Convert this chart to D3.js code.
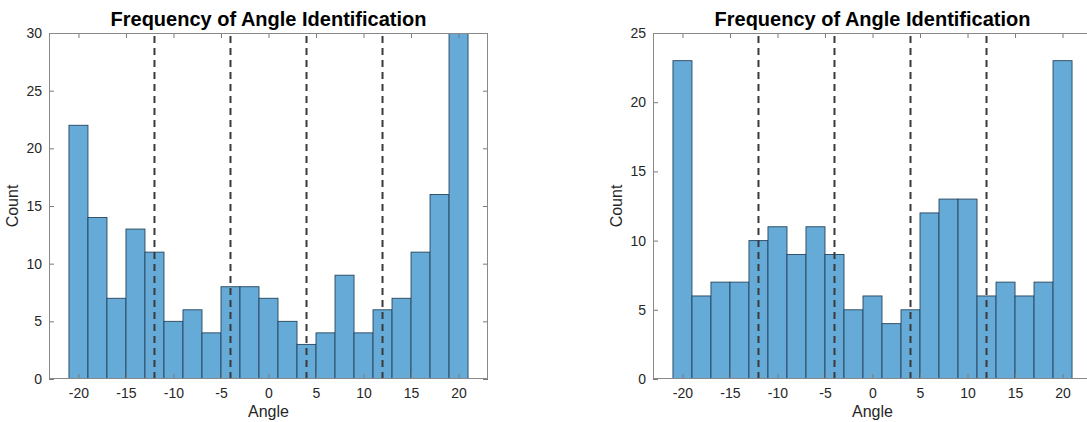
<!DOCTYPE html>
<html>
<head>
<meta charset="utf-8">
<script src="https://cdn.jsdelivr.net/npm/d3@7"></script>
<style>
  html, body { margin: 0; padding: 0; background: #fff; }
  svg { display: block; font-family: "Liberation Sans", Arial, Helvetica, sans-serif; }
</style>
</head>
<body>
<svg id="chart" width="1087" height="422"></svg>
<script>
// ---- data ----
const binCenters = [-20, -18, -16, -14, -12, -10, -8, -6, -4, -2, 0, 2, 4, 6, 8, 10, 12, 14, 16, 18, 20];
const binWidth = 2;
const leftCounts  = [22, 14, 7, 13, 11, 5, 6, 4, 8, 8, 7, 5, 3, 4, 9, 4, 6, 7, 11, 16, 30];
const rightCounts = [23, 6, 7, 7, 10, 11, 9, 11, 9, 5, 6, 4, 5, 12, 13, 13, 6, 7, 6, 7, 23];
const thresholds = [-12, -4, 4, 12];
const xTicks = [-20, -15, -10, -5, 0, 5, 10, 15, 20];
const yTicksLeft = [0, 5, 10, 15, 20, 25, 30];
const yTicksRight = [0, 5, 10, 15, 20, 25];
const titleText = "Frequency of Angle Identification";
const xLabel = "Angle";
const yLabel = "Count";

const svg = d3.select("#chart");
const barFill = "#66aad7";
const textColor = "#262626";

function drawPanel(x0, x1, counts, yMax, yTicks) {
  const top = 33, bottom = 379;
  const x = d3.scaleLinear().domain([-23.1, 23.1]).range([x0, x1]);
  const y = d3.scaleLinear().domain([0, yMax]).range([bottom, top]);
  const g = svg.append("g");

  const id = "clip" + x0;
  svg.append("clipPath").attr("id", id).append("rect")
    .attr("x", x0).attr("y", top).attr("width", x1 - x0).attr("height", bottom - top);

  const plot = g.append("g").attr("clip-path", `url(#${id})`);

  // bars
  plot.selectAll("rect.bar").data(binCenters.map((c, i) => ({c, v: counts[i]})))
    .join("rect").attr("class", "bar")
    .attr("x", d => x(d.c - binWidth / 2))
    .attr("width", d => x(d.c + binWidth / 2) - x(d.c - binWidth / 2))
    .attr("y", d => y(Math.min(d.v, yMax)))
    .attr("height", d => y(0) - y(Math.min(d.v, yMax)))
    .attr("fill", barFill)
    .attr("stroke", "#26455c")
    .attr("stroke-width", 0.9);

  // dashed threshold lines
  plot.selectAll("line.th").data(thresholds).join("line").attr("class", "th")
    .attr("x1", d => x(d)).attr("x2", d => x(d))
    .attr("y1", y(0)).attr("y2", y(yMax) + 2)
    .attr("stroke", "#3a3a3a")
    .attr("stroke-width", 2)
    .attr("stroke-dasharray", "7,5");

  // axes (ticks inside, box)
  const tickLen = 5;
  const axB = d3.axisBottom(x).tickValues(xTicks).tickSize(-tickLen).tickPadding(9).tickFormat(d3.format("d"));
  const axT = d3.axisTop(x).tickValues(xTicks).tickSize(-tickLen).tickFormat("");
  const axL = d3.axisLeft(y).tickValues(yTicks).tickSize(-tickLen).tickPadding(7).tickFormat(d3.format("d"));
  const axR = d3.axisRight(y).tickValues(yTicks).tickSize(-tickLen).tickFormat("");

  const style = sel => {
    sel.select(".domain").remove();
    sel.selectAll(".tick line").attr("stroke", "#7a7a7a").attr("stroke-width", 1);
    sel.selectAll(".tick text").attr("fill", textColor).style("font-size", "14px")
      .style("font-family", '"Liberation Sans", Arial, sans-serif');
  };
  g.append("g").attr("transform", `translate(0,${bottom})`).call(axB).call(style);
  g.append("g").attr("transform", `translate(0,${top})`).call(axT).call(style);
  g.append("g").attr("transform", `translate(${x0},0)`).call(axL).call(style);
  g.append("g").attr("transform", `translate(${x1},0)`).call(axR).call(style);
  g.selectAll(".tick text").text(function() { return d3.select(this).text().replace("−", "-"); });

  // box
  g.append("rect").attr("x", x0 + 0.5).attr("y", top + 0.5)
    .attr("width", x1 - x0 - 1).attr("height", bottom - top - 1)
    .attr("fill", "none").attr("stroke", "#8a8a8a").attr("stroke-width", 1);

  // title
  g.append("text").attr("x", (x0 + x1) / 2).attr("y", 26)
    .attr("text-anchor", "middle").attr("fill", "#000")
    .style("font-weight", "bold").style("font-size", "20px")
    .text(titleText);

  // x label
  g.append("text").attr("x", (x0 + x1) / 2).attr("y", 417)
    .attr("text-anchor", "middle").attr("fill", textColor)
    .style("font-size", "16px").text(xLabel);

  // y label
  g.append("text").attr("transform", `translate(${x0 - 31},${(top + bottom) / 2}) rotate(-90)`)
    .attr("text-anchor", "middle").attr("fill", textColor)
    .style("font-size", "16px").text(yLabel);
}

drawPanel(49, 488, leftCounts, 30, yTicksLeft);
drawPanel(653, 1092, rightCounts, 25, yTicksRight);
</script>
</body>
</html>
